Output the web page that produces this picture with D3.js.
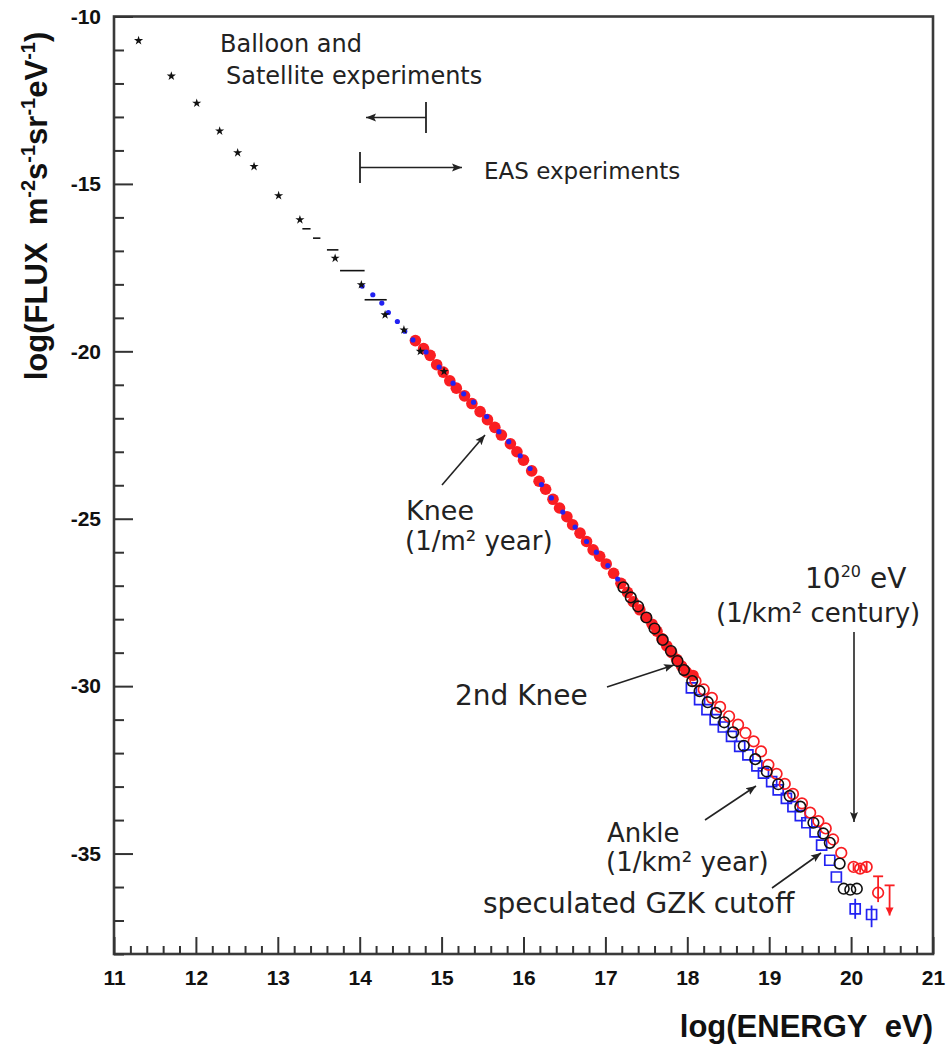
<!DOCTYPE html>
<html>
<head>
<meta charset="utf-8">
<script src="https://cdn.jsdelivr.net/npm/d3@7"></script>
<style>
  body { margin: 0; background: #fff; }
  .tick text { font-family: "Liberation Sans", Arial, sans-serif; font-weight: bold; font-size: 21px; fill: #111; }
  .tick line { stroke: #333; stroke-width: 2; }
  .axis-title { font-family: "Liberation Sans", Arial, sans-serif; font-weight: bold; fill: #111; white-space: pre; }
  .note { font-family: "DejaVu Sans", sans-serif; fill: #222; }
</style>
</head>
<body>
<svg id="chart" width="949" height="1046"></svg>
<script>
// values: [log10(E / eV), log10(flux)]
const starPoints = [[11.30, -10.72], [11.70, -11.78], [12.01, -12.59], [12.29, -13.42], [12.51, -14.07],
  [12.71, -14.48], [13.01, -15.35], [13.27, -16.07], [13.70, -17.22], [14.02, -18.01], [14.31, -18.91],
  [14.54, -19.36], [14.74, -20.00], [15.03, -20.60]]

// horizontal bin bars [E from, E to, flux]
const binBars = [[13.30, 13.40, -16.34], [13.43, 13.52, -16.62], [13.60, 13.74, -16.97],
  [13.76, 14.06, -17.59], [14.06, 14.33, -18.46]]

const blueDots = [[14.03, -18.05], [14.16, -18.31], [14.27, -18.56], [14.35, -18.84], [14.46, -19.11],
  [14.55, -19.40], [14.65, -19.66], [14.81, -20.02], [14.97, -20.47], [15.14, -20.95], [15.27, -21.27],
  [15.39, -21.52], [15.55, -21.95], [15.70, -22.40], [15.82, -22.70], [15.96, -23.12], [16.08, -23.50],
  [16.22, -23.98], [16.34, -24.38], [16.48, -24.80], [16.63, -25.25], [16.77, -25.68], [16.89, -26.00],
  [17.03, -26.40], [17.15, -26.80]]

const redFilled = [[14.68, -19.68], [14.78, -19.92], [14.86, -20.12], [14.94, -20.40], [15.02, -20.62],
  [15.10, -20.88], [15.18, -21.10], [15.28, -21.33], [15.37, -21.56], [15.47, -21.80], [15.56, -22.04],
  [15.65, -22.27], [15.73, -22.50], [15.84, -22.76], [15.92, -23.00], [16.00, -23.25], [16.10, -23.57],
  [16.19, -23.88], [16.27, -24.12], [16.36, -24.42], [16.44, -24.68], [16.53, -24.94], [16.60, -25.18],
  [16.69, -25.43], [16.77, -25.68], [16.85, -25.93], [16.93, -26.12], [17.01, -26.35], [17.10, -26.63],
  [17.19, -26.93], [17.27, -27.20], [17.34, -27.48], [17.42, -27.72], [17.50, -27.95], [17.57, -28.15],
  [17.63, -28.36], [17.69, -28.58], [17.75, -28.80], [17.81, -29.00], [17.87, -29.20], [17.93, -29.40],
  [17.99, -29.58], [18.07, -29.68]]

const blackOpen = [[17.22, -27.05], [17.31, -27.35], [17.40, -27.62], [17.50, -27.95], [17.60, -28.28],
  [17.70, -28.62], [17.80, -28.95], [17.88, -29.25], [17.96, -29.52], [18.06, -29.85], [18.15, -30.15],
  [18.25, -30.48], [18.35, -30.80], [18.45, -31.08], [18.56, -31.38], [18.69, -31.78], [18.83, -32.18],
  [18.97, -32.55], [19.11, -32.93], [19.25, -33.28], [19.38, -33.60], [19.54, -34.08], [19.66, -34.40],
  [19.74, -34.68], [19.86, -35.30], [19.91, -36.05], [19.99, -36.08], [20.07, -36.05]]

const blueSquares = [[18.05, -30.05], [18.15, -30.40], [18.24, -30.70], [18.34, -31.00], [18.44, -31.22],
  [18.54, -31.50], [18.64, -31.80], [18.74, -32.05], [18.85, -32.38], [18.93, -32.60], [19.03, -32.85],
  [19.11, -33.10], [19.21, -33.35], [19.29, -33.60], [19.38, -33.87], [19.46, -34.08], [19.56, -34.35],
  [19.64, -34.75], [19.74, -35.20], [19.82, -35.70]]
// [E, flux, flux high, flux low]
const blueErr = [[20.05, -36.65, -36.35, -36.95], [20.25, -36.82, -36.55, -37.20]]

const redOpen = [[18.10, -29.85], [18.20, -30.10], [18.30, -30.35], [18.40, -30.62], [18.51, -30.90],
  [18.62, -31.15], [18.71, -31.40], [18.81, -31.65], [18.90, -31.95], [18.99, -32.35], [19.09, -32.62],
  [19.19, -32.92], [19.29, -33.22], [19.40, -33.50], [19.50, -33.78], [19.60, -34.03], [19.69, -34.25],
  [19.78, -34.58], [19.88, -34.98]]
const redErr = [[20.03, -35.40, -35.28, -35.52], [20.11, -35.45, -35.33, -35.57],
  [20.19, -35.40, -35.25, -35.58], [20.33, -36.17, -35.68, -36.45]]
// upper limit: [E, flux top, flux bottom]
const redLimit = [[20.47, -35.95, -36.85]]

const xTickValues = [11, 12, 13, 14, 15, 16, 17, 18, 19, 20, 21]
const yTickValues = [-35, -30, -25, -20, -15, -10]

const RED = '#fa1e22', BLUE = '#2222f2', INK = '#222'

const svg = d3.select('#chart')
const DIM = { left: 114, right: 933, top: 16.5, bottom: 954 }

const x = d3.scaleLinear().domain([11, 21]).range([DIM.left, DIM.right])
const y = d3.scaleLinear().domain([-38, -10]).range([DIM.bottom, DIM.top])

// frame
svg.append('rect')
  .attr('x', DIM.left).attr('y', DIM.top)
  .attr('width', DIM.right - DIM.left).attr('height', DIM.bottom - DIM.top)
  .attr('fill', 'none').attr('stroke', '#3a3a3a').attr('stroke-width', 2.6)

// axes, ticks pointing inwards
const xMinor = d3.range(11, 21.001, 0.2).filter(v => Math.abs(v - Math.round(v)) > 0.01)
const yMinor = d3.range(-38, -10).filter(v => v % 5 !== 0)

svg.append('g')
  .attr('transform', `translate(0, ${DIM.bottom})`)
  .call(d3.axisBottom(x).tickValues(xMinor).tickSize(-8).tickFormat(''))
  .call(g => g.select('.domain').remove())
svg.append('g')
  .attr('transform', `translate(0, ${DIM.bottom})`)
  .call(d3.axisBottom(x).tickValues(xTickValues).tickSize(-17).tickPadding(16).tickFormat(d => String(d)))
  .call(g => g.select('.domain').remove())

svg.append('g')
  .attr('transform', `translate(${DIM.left}, 0)`)
  .call(d3.axisLeft(y).tickValues(yMinor).tickSize(-10).tickFormat(''))
  .call(g => g.select('.domain').remove())
svg.append('g')
  .attr('transform', `translate(${DIM.left}, 0)`)
  .call(d3.axisLeft(y).tickValues(yTickValues).tickSize(-19).tickPadding(13).tickFormat(d => String(d)))
  .call(g => g.select('.domain').remove())

// axis titles
const yTitle = svg.append('text')
  .attr('class', 'axis-title')
  .attr('transform', 'translate(47, 206) rotate(-90)')
  .attr('text-anchor', 'middle')
  .attr('font-size', 31)
const ySeg = [['log(FLUX\u00a0\u00a0m', false], ['-2', true], ['s', false], ['-1', true], ['sr', false], ['-1', true], ['eV', false], ['-1', true], [')', false]]
let up = false
ySeg.forEach(([t, sup]) => {
  const ts = yTitle.append('tspan').text(t)
  if (sup && !up) { ts.attr('dy', -12).attr('font-size', 20); up = true }
  else if (!sup && up) { ts.attr('dy', 12); up = false }
  else if (sup) ts.attr('font-size', 20)
})

svg.append('text')
  .attr('class', 'axis-title')
  .attr('x', 933).attr('y', 1037)
  .attr('text-anchor', 'end')
  .attr('font-size', 31)
  .text('log(ENERGY\u00a0\u00a0eV)')

// arrow heads
const defs = svg.append('defs')
defs.append('marker')
  .attr('id', 'head')
  .attr('markerUnits', 'userSpaceOnUse')
  .attr('markerWidth', 12).attr('markerHeight', 10)
  .attr('refX', 10).attr('refY', 5)
  .attr('orient', 'auto')
  .append('path').attr('d', 'M0,1 L10,5 L0,9 L2,5 Z').attr('fill', INK)

// data marks
const plot = svg.append('g')

plot.selectAll('.bin')
  .data(binBars)
  .join('line')
  .attr('x1', d => x(d[0])).attr('x2', d => x(d[1]))
  .attr('y1', d => y(d[2])).attr('y2', d => y(d[2]))
  .attr('stroke', '#111').attr('stroke-width', 1.6)

plot.selectAll('.red-filled')
  .data(redFilled)
  .join('circle')
  .attr('cx', d => x(d[0])).attr('cy', d => y(d[1]))
  .attr('r', 5.8)
  .attr('fill', RED)

plot.selectAll('.blue-dot')
  .data(blueDots)
  .join('circle')
  .attr('cx', d => x(d[0])).attr('cy', d => y(d[1]))
  .attr('r', 2.6)
  .attr('fill', BLUE)

plot.selectAll('.star')
  .data(starPoints)
  .join('path')
  .attr('transform', d => `translate(${x(d[0])}, ${y(d[1])})`)
  .attr('d', d3.symbol(d3.symbolStar).size(26))
  .attr('fill', '#111')

// error bars
const errBar = (sel, data, color) => {
  sel.selectAll(null)
    .data(data)
    .join('line')
    .attr('x1', d => x(d[0])).attr('x2', d => x(d[0]))
    .attr('y1', d => y(d[2])).attr('y2', d => y(d[3]))
    .attr('stroke', color).attr('stroke-width', 1.8)
}
errBar(plot, blueErr, BLUE)
errBar(plot, redErr, RED)

const square = d3.symbol(d3.symbolSquare).size(100)
plot.selectAll('.blue-square')
  .data(blueSquares.concat(blueErr))
  .join('path')
  .attr('transform', d => `translate(${x(d[0])}, ${y(d[1])})`)
  .attr('d', square)
  .attr('fill', 'none').attr('stroke', BLUE).attr('stroke-width', 1.7)

plot.selectAll('.red-open')
  .data(redOpen.concat(redErr))
  .join('circle')
  .attr('cx', d => x(d[0])).attr('cy', d => y(d[1]))
  .attr('r', 5.3)
  .attr('fill', 'none').attr('stroke', RED).attr('stroke-width', 1.7)

plot.selectAll('.black-open')
  .data(blackOpen)
  .join('circle')
  .attr('cx', d => x(d[0])).attr('cy', d => y(d[1]))
  .attr('r', 5.3)
  .attr('fill', 'none').attr('stroke', '#111').attr('stroke-width', 1.6)

// upper limit with arrow down
defs.append('marker')
  .attr('id', 'red-head')
  .attr('markerUnits', 'userSpaceOnUse')
  .attr('markerWidth', 10).attr('markerHeight', 10)
  .attr('refX', 8).attr('refY', 4)
  .attr('orient', 'auto')
  .append('path').attr('d', 'M0,0 L8,4 L0,8 Z').attr('fill', RED)
plot.selectAll('.limit')
  .data(redLimit)
  .join('line')
  .attr('x1', d => x(d[0])).attr('x2', d => x(d[0]))
  .attr('y1', d => y(d[1])).attr('y2', d => y(d[2]))
  .attr('stroke', RED).attr('stroke-width', 1.8)
  .attr('marker-end', 'url(#red-head)')
plot.selectAll('.cap')
  .data(redErr.slice(3).concat(redLimit.map(d => [d[0], 0, d[1]])))
  .join('line')
  .attr('x1', d => x(d[0]) - 5).attr('x2', d => x(d[0]) + 5)
  .attr('y1', d => y(d[2])).attr('y2', d => y(d[2]))
  .attr('stroke', RED).attr('stroke-width', 1.8)

// annotations
const note = (txt, px, py, size) => svg.append('text')
  .attr('class', 'note').attr('x', px).attr('y', py)
  .attr('font-size', size).text(txt)
const arrow = (x1, y1, x2, y2) => svg.append('line')
  .attr('x1', x1).attr('y1', y1).attr('x2', x2).attr('y2', y2)
  .attr('stroke', INK).attr('stroke-width', 1.6)
  .attr('marker-end', 'url(#head)')
const bar = (px, y1, y2) => svg.append('line')
  .attr('x1', px).attr('x2', px).attr('y1', y1).attr('y2', y2)
  .attr('stroke', INK).attr('stroke-width', 1.8)

note('Balloon and', 220, 52, 24)
note('Satellite experiments', 226, 84, 24)
bar(426, 102, 133)
arrow(426, 117.5, 366, 117.5)
bar(360, 152, 183)
arrow(360, 167.5, 462, 167.5)
note('EAS experiments', 484, 179, 23)

note('Knee', 406, 520, 27)
note('(1/m² year)', 405, 550, 26)
arrow(442, 485, 485, 435)

note('2nd Knee', 455, 705, 28)
arrow(607, 687, 674, 665)

const tenTwenty = svg.append('text').attr('class', 'note').attr('x', 805).attr('y', 588).attr('font-size', 28)
tenTwenty.append('tspan').text('10')
tenTwenty.append('tspan').attr('dy', -11).attr('font-size', 16).text('20')
tenTwenty.append('tspan').attr('dy', 11).text(' eV')
note('(1/km² century)', 716, 622, 26)
arrow(854, 632, 854, 822)

note('Ankle', 607, 842, 26)
note('(1/km² year)', 606, 871, 26)
arrow(705, 820, 756, 786)

note('speculated GZK cutoff', 483, 913, 28)
arrow(772, 888, 821, 853)
</script>
</body>
</html>
